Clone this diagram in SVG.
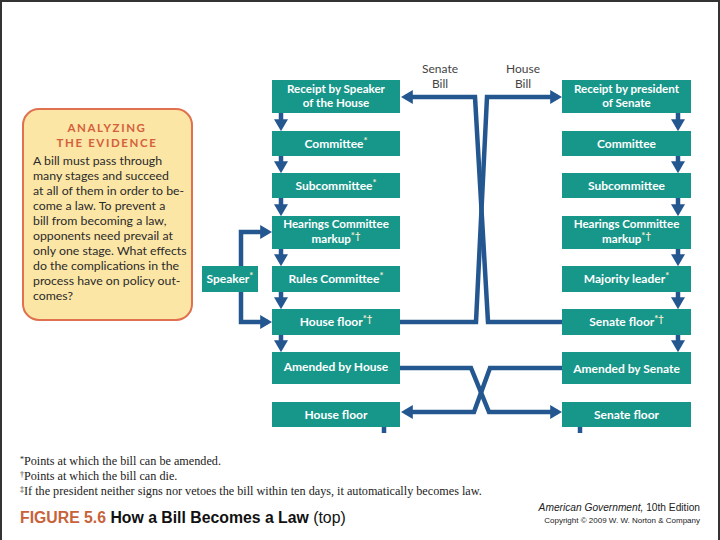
<svg xmlns="http://www.w3.org/2000/svg" width="720" height="540" viewBox="0 0 720 540">
<style>
.box{fill:#17968a}
.bt{font-family:Lato,"Open Sans",sans-serif;font-weight:700;font-size:12px;fill:#ffffff;text-anchor:middle}
.bt2{font-size:11.6px}
.sup{font-size:9.5px;fill:#f3ead0}
.con{fill:none;stroke:#245790;stroke-width:4.5;stroke-linejoin:miter}
.lbl{font-family:Lato,"Open Sans",sans-serif;font-size:12px;fill:#444;text-anchor:middle}
.body{font-family:Lato,"Open Sans",sans-serif;font-size:12.3px;fill:#2a2a2a}
.ttl{font-family:Lato,"Open Sans",sans-serif;font-size:11.5px;font-weight:700;fill:#d4603c;letter-spacing:1.6px;text-anchor:middle}
.fn{font-family:"Liberation Serif",serif;font-size:12.2px;fill:#222}
</style>
<defs>
<marker id="ah" markerUnits="userSpaceOnUse" markerWidth="12" markerHeight="14" viewBox="0 0 10 10" refX="6.5" refY="5" orient="auto" preserveAspectRatio="none">
<path d="M0,0 L10,5 L0,10 z" fill="#245790"/>
</marker>
</defs>
<rect x="1" y="1" width="718" height="545" fill="#ffffff" stroke="#333" stroke-width="2"/>

<g id="analyzing">
<rect x="23" y="109" width="169" height="211" rx="16" fill="#fce6a6" stroke="#e0704e" stroke-width="2"/>
<text class="ttl" x="107" y="132">ANALYZING</text>
<text class="ttl" x="107" y="147">THE EVIDENCE</text>
<text class="body" x="33" y="165">A bill must pass through</text>
<text class="body" x="33" y="180">many stages and succeed</text>
<text class="body" x="33" y="195">at all of them in order to be-</text>
<text class="body" x="33" y="210">come a law. To prevent a</text>
<text class="body" x="33" y="225">bill from becoming a law,</text>
<text class="body" x="33" y="240">opponents need prevail at</text>
<text class="body" x="33" y="255">only one stage. What effects</text>
<text class="body" x="33" y="270">do the complications in the</text>
<text class="body" x="33" y="285">process have on policy out-</text>
<text class="body" x="33" y="300">comes?</text>
</g>

<g id="labels">
<text class="lbl" x="440" y="73">Senate</text>
<text class="lbl" x="440" y="88">Bill</text>
<text class="lbl" x="523" y="73">House</text>
<text class="lbl" x="523" y="88">Bill</text>
</g>

<g id="h-receipt"><rect class="box" x="272" y="80" width="128" height="33"/><text class="bt bt2" x="336" y="93">Receipt by Speaker</text><text class="bt bt2" x="336" y="107">of the House</text></g>
<g id="h-committee"><rect class="box" x="272" y="131" width="128" height="25"/><text class="bt" x="336" y="148">Committee<tspan class="sup" dy="-4">*</tspan></text></g>
<g id="h-subcommittee"><rect class="box" x="272" y="173" width="128" height="25"/><text class="bt" x="336" y="190">Subcommittee<tspan class="sup" dy="-4">*</tspan></text></g>
<g id="h-hearings"><rect class="box" x="272" y="216" width="128" height="33"/><text class="bt bt2" x="336" y="228">Hearings Committee</text><text class="bt bt2" x="336" y="243">markup<tspan class="sup" dy="-4">*†</tspan></text></g>
<g id="h-rules"><rect class="box" x="272" y="266" width="128" height="26"/><text class="bt" x="336" y="283">Rules Committee<tspan class="sup" dy="-4">*</tspan></text></g>
<g id="h-floor1"><rect class="box" x="272" y="309" width="128" height="26"/><text class="bt" x="336" y="326">House floor<tspan class="sup" dy="-4">*†</tspan></text></g>
<g id="h-amended"><rect class="box" x="272" y="352" width="128" height="32"/><text class="bt" x="336" y="371">Amended by House</text></g>
<g id="h-floor2"><rect class="box" x="272" y="402" width="128" height="25"/><text class="bt" x="336" y="419">House floor</text></g>
<g id="speaker"><rect class="box" x="202" y="266" width="56" height="26"/><text class="bt" x="230" y="283">Speaker<tspan class="sup" dy="-4">*</tspan></text></g>

<g id="s-receipt"><rect class="box" x="562" y="80" width="129" height="33"/><text class="bt bt2" x="626.5" y="93">Receipt by president</text><text class="bt bt2" x="626.5" y="107">of Senate</text></g>
<g id="s-committee"><rect class="box" x="562" y="131" width="129" height="25"/><text class="bt" x="626.5" y="148">Committee</text></g>
<g id="s-subcommittee"><rect class="box" x="562" y="173" width="129" height="25"/><text class="bt" x="626.5" y="190">Subcommittee</text></g>
<g id="s-hearings"><rect class="box" x="562" y="216" width="129" height="33"/><text class="bt bt2" x="626.5" y="228">Hearings Committee</text><text class="bt bt2" x="626.5" y="243">markup<tspan class="sup" dy="-4">*†</tspan></text></g>
<g id="s-majority"><rect class="box" x="562" y="266" width="129" height="26"/><text class="bt" x="626.5" y="283">Majority leader<tspan class="sup" dy="-4">*</tspan></text></g>
<g id="s-floor1"><rect class="box" x="562" y="309" width="129" height="26"/><text class="bt" x="626.5" y="326">Senate floor<tspan class="sup" dy="-4">*†</tspan></text></g>
<g id="s-amended"><rect class="box" x="562" y="352" width="129" height="32"/><text class="bt" x="626.5" y="373">Amended by Senate</text></g>
<g id="s-floor2"><rect class="box" x="562" y="402" width="129" height="25"/><text class="bt" x="626.5" y="419">Senate floor</text></g>

<g id="connectors">
<path class="con" marker-end="url(#ah)" d="M281,113 V127"/>
<path class="con" marker-end="url(#ah)" d="M281,156 V169"/>
<path class="con" marker-end="url(#ah)" d="M281,198 V212"/>
<path class="con" marker-end="url(#ah)" d="M281,249 V262"/>
<path class="con" marker-end="url(#ah)" d="M281,292 V305"/>
<path class="con" marker-end="url(#ah)" d="M281,335 V348"/>
<path class="con" marker-end="url(#ah)" d="M678,113 V127"/>
<path class="con" marker-end="url(#ah)" d="M678,156 V169"/>
<path class="con" marker-end="url(#ah)" d="M678,198 V212"/>
<path class="con" marker-end="url(#ah)" d="M678,249 V262"/>
<path class="con" marker-end="url(#ah)" d="M678,292 V305"/>
<path class="con" marker-end="url(#ah)" d="M678,335 V348"/>
<path class="con" marker-end="url(#ah)" d="M241,266 V232 H268"/>
<path class="con" marker-end="url(#ah)" d="M241,292 V322 H268"/>
<path class="con" marker-end="url(#ah)" d="M562,322 H488 L475,97 H405"/>
<path class="con" marker-end="url(#ah)" d="M400,322 H476 L487,97 H558"/>
<path class="con" marker-end="url(#ah)" d="M400,368 H471 L489,412 H558"/>
<path class="con" marker-end="url(#ah)" d="M562,368 H490 L474,412 H405"/>
<path class="con" d="M384,427 V433"/>
<path class="con" d="M580,427 V433"/>
</g>

<g id="footer">
<text class="fn" x="20" y="465"><tspan font-size="8" dy="-3">*</tspan><tspan dy="3">Points at which the bill can be amended.</tspan></text>
<text class="fn" x="20" y="480"><tspan font-size="8" dy="-3">†</tspan><tspan dy="3">Points at which the bill can die.</tspan></text>
<text class="fn" x="20" y="495"><tspan font-size="8" dy="-3">‡</tspan><tspan dy="3">If the president neither signs nor vetoes the bill within ten days, it automatically becomes law.</tspan></text>
<text x="20" y="523" font-family="'Liberation Sans',Arial,sans-serif" font-size="15.8px" font-weight="700" fill="#111"><tspan fill="#c8623a">FIGURE 5.6</tspan> How a Bill Becomes a Law <tspan font-weight="400">(top)</tspan></text>
<text x="700" y="511" font-family="'Liberation Sans',Arial,sans-serif" font-size="10.2px" fill="#222" text-anchor="end"><tspan font-style="italic">American Government,</tspan> 10th Edition</text>
<text x="700" y="523" font-family="'Liberation Sans',Arial,sans-serif" font-size="8px" fill="#222" text-anchor="end">Copyright © 2009 W. W. Norton &amp; Company</text>
</g>
</svg>
